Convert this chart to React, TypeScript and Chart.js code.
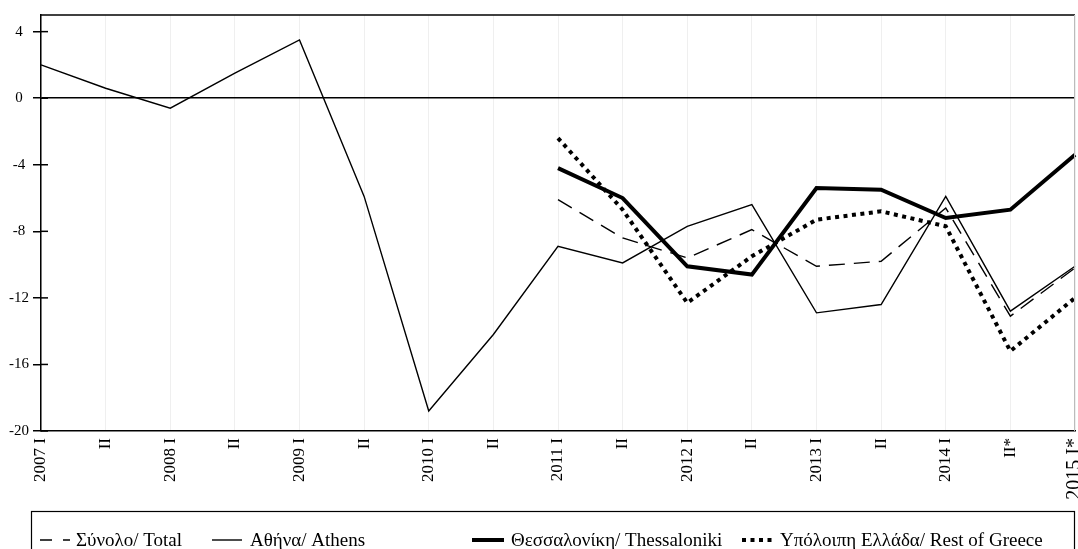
import React, { useEffect, useRef } from 'react';
import { Chart, registerables } from 'chart.js';

Chart.register(...registerables);

const categories = ['2007 I', 'II', '2008 I', 'II', '2009 I', 'II', '2010 I', 'II', '2011 I', 'II', '2012 I', 'II', '2013 I', 'II', '2014 I', 'II*', '2015 I*'];
const athens = [2.0, 0.6, -0.6, 1.5, 3.5, -5.9, -18.8, -14.2, -8.9, -9.9, -7.7, -6.4, -12.9, -12.4, -5.9, -12.8, -10.1];
const total = [null, null, null, null, null, null, null, null, -6.1, -8.4, -9.6, -7.9, -10.1, -9.8, -6.6, -13.1, -10.2];
const thessaloniki = [null, null, null, null, null, null, null, null, -4.2, -6.0, -10.1, -10.6, -5.4, -5.5, -7.2, -6.7, -3.4];
const restOfGreece = [null, null, null, null, null, null, null, null, -2.4, -6.7, -12.3, -9.5, -7.3, -6.8, -7.7, -15.2, -12.0];
const yTicks = [4, 0, -4, -8, -12, -16, -20];
const seriesLabels = ['Σύνολο/ Total', 'Αθήνα/ Athens', 'Θεσσαλονίκη/ Thessaloniki', 'Υπόλοιπη Ελλάδα/ Rest of Greece'];

const FONT = "'Liberation Serif', 'DejaVu Serif', serif";

const legendSlots = [
  { sx: 40, sw: 30, tx: 76 },
  { sx: 212, sw: 30, tx: 250 },
  { sx: 472, sw: 32, tx: 511 },
  { sx: 742, sw: 32, tx: 780 },
];

const framePlugin = {
  id: 'frame',
  afterDraw(chart: any) {
    const { ctx, chartArea } = chart;
    const y = chart.scales.y;
    ctx.save();
    ctx.strokeStyle = '#000';
    ctx.lineWidth = 1.5;
    ctx.beginPath();
    ctx.moveTo(chartArea.left, chartArea.top);
    ctx.lineTo(chartArea.right, chartArea.top);
    ctx.stroke();
    ctx.strokeStyle = '#bbb';
    ctx.lineWidth = 1;
    ctx.beginPath();
    ctx.moveTo(chartArea.right - 0.5, chartArea.top);
    ctx.lineTo(chartArea.right - 0.5, chartArea.bottom);
    ctx.stroke();
    ctx.strokeStyle = '#000';
    ctx.lineWidth = 1.5;
    yTicks.forEach((v) => {
      const py = y.getPixelForValue(v);
      ctx.beginPath();
      ctx.moveTo(chartArea.left, py);
      ctx.lineTo(chartArea.left + 7, py);
      ctx.stroke();
    });
    const top = 511;
    ctx.strokeStyle = '#000';
    ctx.lineWidth = 1.2;
    ctx.strokeRect(31.5, top + 0.5, 1043, 60);
    const ly = 546;
    chart.data.datasets.forEach((ds: any, i: number) => {
      const slot = legendSlots[i];
      ctx.save();
      ctx.strokeStyle = '#000';
      ctx.lineWidth = ds.borderWidth;
      ctx.setLineDash(i === 0 ? [12, 11] : ds.borderDash || []);
      ctx.lineCap = 'butt';
      ctx.beginPath();
      ctx.moveTo(slot.sx, ly - 6);
      ctx.lineTo(slot.sx + slot.sw, ly - 6);
      ctx.stroke();
      ctx.restore();
      ctx.fillStyle = '#000';
      ctx.font = `19px ${FONT}`;
      ctx.textBaseline = 'alphabetic';
      ctx.textAlign = 'left';
      ctx.fillText(ds.label, slot.tx, ly);
    });
    ctx.restore();
  },
};

export default function App() {
  const canvasRef = useRef<HTMLCanvasElement>(null);

  useEffect(() => {
    if (!canvasRef.current) return;
    const chart = new Chart(canvasRef.current, {
      type: 'line',
      data: {
        labels: categories,
        datasets: [
          { label: seriesLabels[0], data: total, borderColor: '#000', borderWidth: 1.4, borderDash: [16, 9], pointRadius: 0, tension: 0 },
          { label: seriesLabels[1], data: athens, borderColor: '#000', borderWidth: 1.4, pointRadius: 0, tension: 0 },
          { label: seriesLabels[2], data: thessaloniki, borderColor: '#000', borderWidth: 4, pointRadius: 0, tension: 0 },
          { label: seriesLabels[3], data: restOfGreece, borderColor: '#000', borderWidth: 4, borderDash: [4, 4.5], pointRadius: 0, tension: 0 },
        ],
      },
      options: {
        animation: false,
        responsive: true,
        maintainAspectRatio: false,
        layout: { padding: { top: 15, right: 3, left: 0, bottom: 0 } },
        plugins: { legend: { display: false }, tooltip: { enabled: false } },
        scales: {
          x: {
            offset: false,
            grid: { color: '#efefef', lineWidth: 1, drawTicks: false },
            border: { display: true, color: '#000', width: 1.5 },
            ticks: {
              autoSkip: false,
              minRotation: 90,
              maxRotation: 90,
              padding: 7,
              color: '#000',
              font: (c: any) => ({ family: FONT, size: c.index === categories.length - 1 ? 20 : 17 }),
            },
            afterFit: (scale: any) => {
              scale.height = 118;
              scale.paddingLeft = 0;
              scale.paddingRight = 0;
            },
          },
          y: {
            min: -20,
            max: 5,
            afterBuildTicks: (scale: any) => { scale.ticks = yTicks.map((v) => ({ value: v })); },
            grid: {
              color: (c: any) => (c.tick && c.tick.value === 0 ? '#000' : 'rgba(0,0,0,0)'),
              lineWidth: 1.5,
              drawTicks: true,
              tickLength: 8,
              tickColor: '#000',
            },
            border: { display: true, color: '#000', width: 1.5 },
            ticks: {
              padding: 4,
              crossAlign: 'center',
              color: '#000',
              font: { family: FONT, size: 15 },
            },
            afterFit: (scale: any) => { scale.width = 41; },
          },
        },
      },
      plugins: [framePlugin],
    });
    return () => chart.destroy();
  }, []);

  return (
    <div style={{ position: 'fixed', left: 0, top: 0, width: 1078, height: 549, background: '#fff' }}>
      <canvas ref={canvasRef} />
    </div>
  );
}
